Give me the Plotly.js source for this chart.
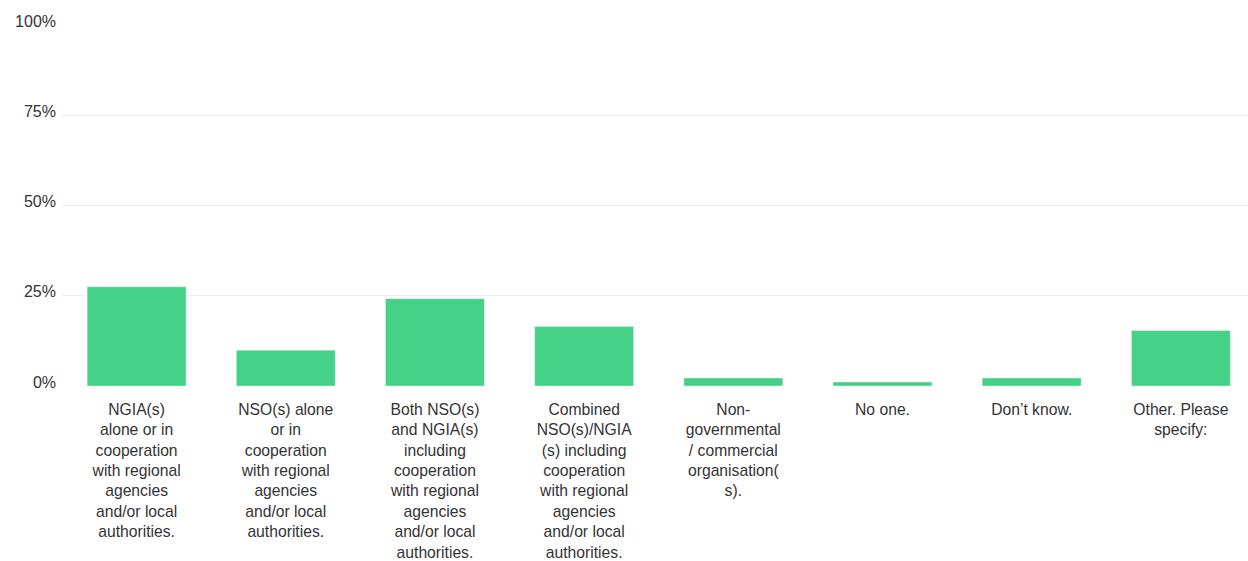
<!DOCTYPE html>
<html>
<head>
<meta charset="utf-8">
<script src="https://cdn.plot.ly/plotly-3.0.1.min.js"></script>
<style>
  html, body { margin: 0; padding: 0; background: #ffffff; overflow: hidden; }
  #chart { width: 1248px; height: 561px; }
</style>
</head>
<body>
<div id="chart"></div>
<script>
// Answer options (full text) and the share of respondents choosing each one (%)
const categories = [
  "NGIA(s) alone or in cooperation with regional agencies and/or local authorities.",
  "NSO(s) alone or in cooperation with regional agencies and/or local authorities.",
  "Both NSO(s) and NGIA(s) including cooperation with regional agencies and/or local authorities.",
  "Combined NSO(s)/NGIA(s) including cooperation with regional agencies and/or local authorities.",
  "Non-governmental / commercial organisation(s).",
  "No one.",
  "Don’t know.",
  "Other. Please specify:"
];
const shares = [27.5, 9.9, 24.2, 16.5, 2.2, 1.1, 2.2, 15.4];

// Wrapped axis labels for the categories
const tickLabels = [
  "NGIA(s)<br>alone or in<br>cooperation<br>with regional<br>agencies<br>and/or local<br>authorities.",
  "NSO(s) alone<br>or in<br>cooperation<br>with regional<br>agencies<br>and/or local<br>authorities.",
  "Both NSO(s)<br>and NGIA(s)<br>including<br>cooperation<br>with regional<br>agencies<br>and/or local<br>authorities.",
  "Combined<br>NSO(s)/NGIA<br>(s) including<br>cooperation<br>with regional<br>agencies<br>and/or local<br>authorities.",
  "Non-<br>governmental<br>/ commercial<br>organisation(<br>s).",
  "No one.",
  "Don’t know.",
  "Other. Please<br>specify:"
];
const yTicks = [0, 25, 50, 75, 100];
const yTickLabels = ["0%", "25%", "50%", "75%", "100%"];

const trace = {
  type: "bar",
  x: categories,
  y: shares,
  marker: { color: "#45d188", line: { color: "rgba(255,255,255,0.35)", width: 1 } },
  hoverinfo: "x+y"
};

const layout = {
  width: 1248,
  height: 561,
  margin: { l: 62, r: 0, t: 25, b: 175 },
  paper_bgcolor: "#ffffff",
  plot_bgcolor: "#ffffff",
  font: { family: "Liberation Sans, Arial, sans-serif", size: 16, color: "#333333" },
  showlegend: false,
  bargap: 0.337,
  xaxis: {
    type: "category",
    range: [-0.5, 7.45],
    tickvals: categories,
    ticktext: tickLabels,
    tickangle: 0,
    tickfont: { size: 15.7 },
    showgrid: false,
    zeroline: false,
    showline: false,
    ticks: "outside",
    ticklen: 9,
    tickcolor: "rgba(0,0,0,0)",
    automargin: false
  },
  yaxis: {
    range: [0, 100],
    tickmode: "array",
    tickvals: yTicks,
    ticktext: yTickLabels,
    showgrid: true,
    gridcolor: "#ececec",
    gridwidth: 1,
    zeroline: false,
    showline: false,
    ticklabelshift: -4,
    ticklabelstandoff: 5,
    automargin: false,
    fixedrange: true
  }
};

Plotly.newPlot("chart", [trace], layout, { displayModeBar: false, staticPlot: true });
</script>
</body>
</html>
